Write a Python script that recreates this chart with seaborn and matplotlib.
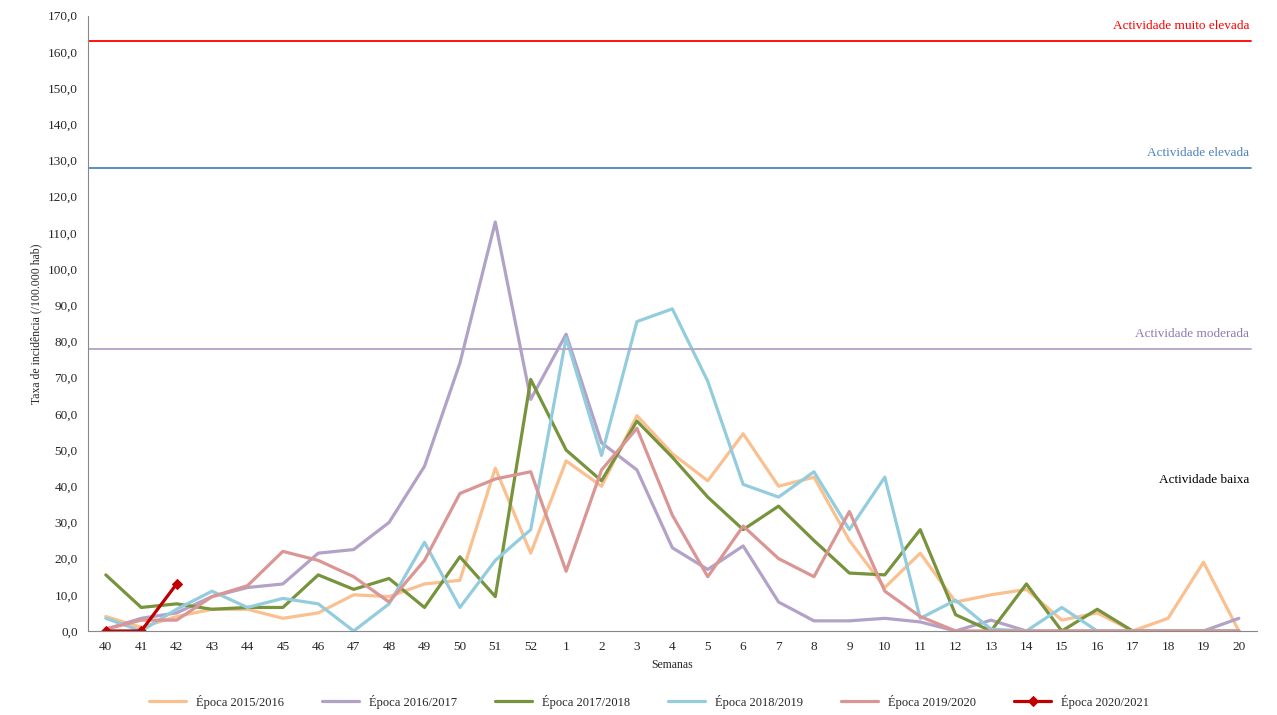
import matplotlib
matplotlib.use('Agg')
import matplotlib.pyplot as plt
import seaborn as sns
import pandas as pd

# Weekly incidence rates per season
weeks = [str(w) for w in list(range(40, 53)) + list(range(1, 21))]
s2015 = [4, 1, 4, 6, 6, 3.5, 5, 10, 9.5, 13, 14, 45, 21.5, 47, 40, 59.5, 49, 41.5, 54.5, 40, 42.5, 25, 12, 21.5, 8, 10, 11.5, 3, 5, 0, 3.5, 19, 0]
s2016 = [0.5, 3.5, 5, 9.5, 12, 13, 21.5, 22.5, 30, 45.5, 74, 113, 64, 82, 52, 44.5, 23, 17, 23.5, 8, 2.8, 2.8, 3.5, 2.5, 0, 3, 0, 0, 0, 0, 0, 0, 3.5]
s2017 = [15.5, 6.5, 7.5, 6, 6.5, 6.5, 15.5, 11.5, 14.5, 6.5, 20.5, 9.5, 69.5, 50, 41.5, 58, 48, 37, 28, 34.5, 25, 16, 15.5, 28, 4.5, 0, 13, 0, 6, 0, 0, 0, 0]
s2018 = [3.5, 0, 6, 11, 6.5, 9, 7.5, 0, 7.5, 24.5, 6.5, 19.5, 28, 81, 48.5, 85.5, 89, 69, 40.5, 37, 44, 28, 42.5, 3.5, 8.5, 0.5, 0, 6.5, 0, 0, 0, 0, 0]
s2019 = [0.5, 3, 3, 9.5, 12.5, 22, 19.5, 15, 8, 19.5, 38, 42, 44, 16.5, 44.5, 56, 32, 15, 29, 20, 15, 33, 11, 4, 0, 0, 0, 0, 0, 0, 0, 0, 0]
s2020 = [0, 0, 13]

labels = ['Época 2015/2016', 'Época 2016/2017', 'Época 2017/2018', 'Época 2018/2019', 'Época 2019/2020']
colors = ['#FAC090', '#B3A2C7', '#77933C', '#93CDDD', '#D99694']

thresholds = [163, 128, 78]
thr_labels = ['Actividade muito elevada', 'Actividade elevada', 'Actividade moderada']
thr_colors = ['#FF0000', '#4F81BD', '#8E7CB0']
thr_line_colors = ['#FF0000', '#4F81BD', '#B3A2C7']

sns.set_style('white')
plt.rcParams['font.family'] = ['Liberation Serif', 'DejaVu Serif']

fig = plt.figure(figsize=(12.77, 7.15), dpi=100)
ax = fig.add_axes([0.069, 0.1175, 0.915, 0.8605])

x = list(range(len(weeks)))
for vals, lab, c in zip([s2015, s2016, s2017, s2018, s2019], labels, colors):
    sns.lineplot(x=x, y=vals, ax=ax, color=c, linewidth=2.3, label=lab)
sns.lineplot(x=x[:3], y=s2020, ax=ax, color='#C00000', linewidth=2.3, marker='D',
             markersize=5, markeredgecolor='#C00000', label='Época 2020/2021')

for t, lab, c, lc in zip(thresholds, thr_labels, thr_colors, thr_line_colors):
    ax.axhline(t, color=lc, linewidth=1.3, xmin=0.0, xmax=0.995)
    ax.text(32.3, t + 2.5, lab, color=c, ha='right', va='bottom', fontsize=9.5)
ax.text(32.3, 40, 'Actividade baixa', color='black', ha='right', va='bottom', fontsize=9.5)

ax.set_xlim(-0.5, 32.5)
ax.set_ylim(0, 170)
ax.set_xticks(x)
ax.set_xticklabels(weeks, fontsize=9.5)
ax.set_yticks(range(0, 171, 10))
ax.set_yticklabels([f'{v},0' for v in range(0, 171, 10)], fontsize=9.5)
ax.set_xlabel('Semanas', fontsize=8.5)
ax.set_ylabel('Taxa de incidência (/100.000 hab)', fontsize=8.5)
ax.tick_params(axis='both', direction='out', length=4, color='#888888')
sns.despine(ax=ax, top=True, right=True)
for s in ['left', 'bottom']:
    ax.spines[s].set_color('#888888')

ax.legend(loc='upper center', bbox_to_anchor=(0.48, -0.085), ncol=6, frameon=False,
          fontsize=9, handlelength=3, columnspacing=3)

fig.savefig('out.png', dpi=100)
